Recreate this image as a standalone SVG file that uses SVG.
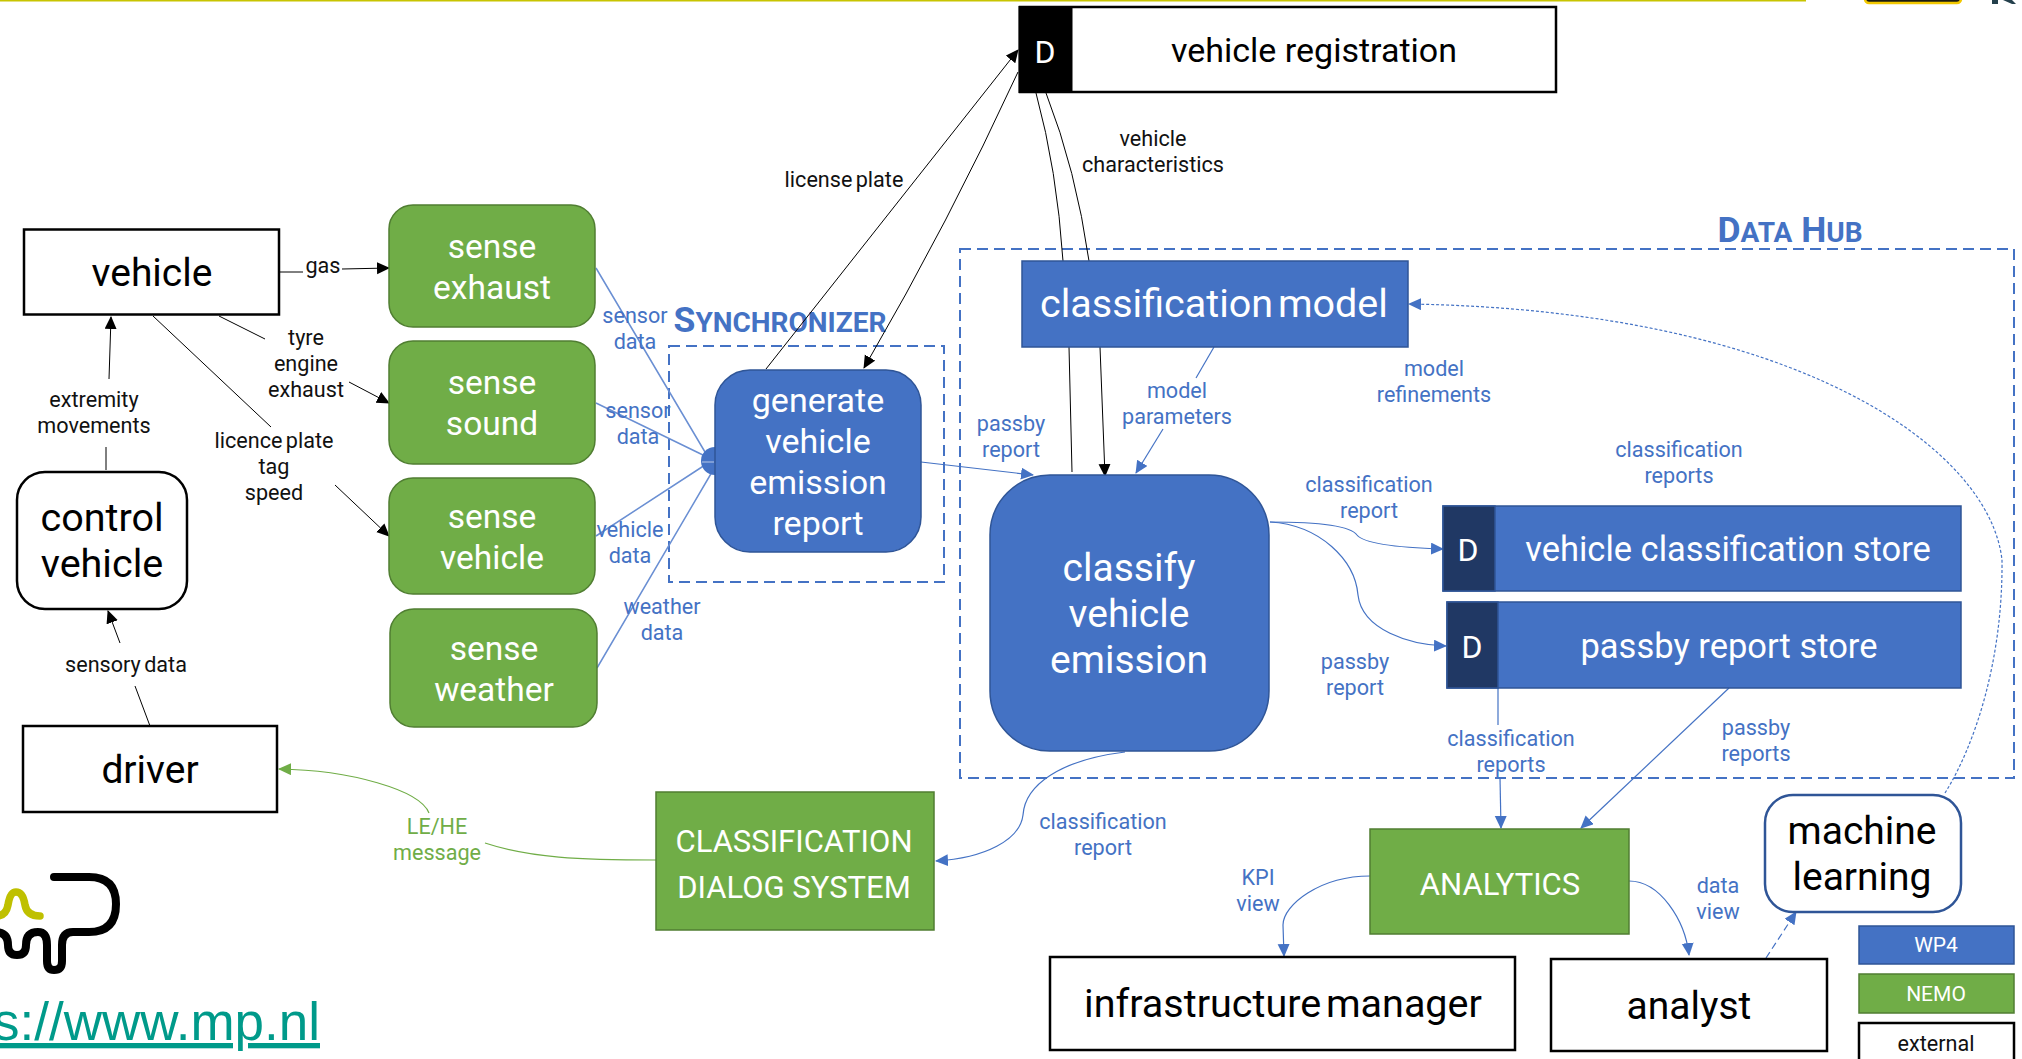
<svg xmlns="http://www.w3.org/2000/svg" width="2022" height="1059" viewBox="0 0 2022 1059">
<style>
text{font-family:Roboto,"Liberation Sans",sans-serif;text-anchor:middle}
.g{fill:#70ad47;stroke:#507e32;stroke-width:1.5}
.b{fill:#4472c4;stroke:#2f5597;stroke-width:1.5}
.d{fill:#203864;stroke:#2f5597;stroke-width:1.5}
.w{fill:#fff;stroke:#000;stroke-width:2.5}
.n{fill:#fff;font-size:33.5px}
.k{fill:#000;font-size:39px}
.l{fill:#111;font-size:21.6px;word-spacing:-2px}
.lb{fill:#4472c4;font-size:21.6px}
.lg{fill:#70ad47;font-size:21.6px}
.h{fill:#4472c4;font-weight:700;font-size:35.5px}
.h tspan{font-size:28px}
.dash{fill:none;stroke:#4472c4;stroke-width:2;stroke-dasharray:11 6}
.c{fill:none;stroke:#000;stroke-width:1}
.cb{fill:none;stroke:#4472c4;stroke-width:1.2}
.cs{fill:none;stroke:#6a8fd3;stroke-width:1.5}
.cg{fill:none;stroke:#70ad47;stroke-width:1.2}
</style>
<defs>
<marker id="ak" markerWidth="14" markerHeight="14" refX="12" refY="6" orient="auto" markerUnits="userSpaceOnUse"><path d="M0 0L13 6L0 12z" fill="#000"/></marker>
<marker id="ab" markerWidth="14" markerHeight="14" refX="12" refY="6" orient="auto" markerUnits="userSpaceOnUse"><path d="M0 0L13 6L0 12z" fill="#4472c4"/></marker>
<marker id="ag" markerWidth="14" markerHeight="14" refX="12" refY="6" orient="auto" markerUnits="userSpaceOnUse"><path d="M0 0L13 6L0 12z" fill="#70ad47"/></marker>
</defs>
<rect width="2022" height="1059" fill="#fff"/>
<g id="page-decor">
<rect x="0" y="0" width="1806" height="1.5" fill="#c8c400"/>
<rect x="1865" y="-8" width="96" height="11" rx="4" fill="#1c1c10" stroke="#f2c800" stroke-width="2.5"/>
<rect x="1992" y="0" width="6" height="4" fill="#24404c"/>
<path d="M2003 0H2012L2016 4H2012z" fill="#24404c"/>
</g>
<g id="logo" fill="none" stroke-linecap="round" stroke-linejoin="round">
<path d="M54 877H89Q116 877 116 904Q116 932 89 932H73Q62 932 62 945V961Q62 970 54 970Q47 970 47 961V945Q47 932 38 932Q26 932 26 945Q26 955 17 955Q8 955 8 945Q8 932 -5 932" stroke="#000" stroke-width="8"/>
<path d="M-4 916Q6 916 8 905Q10 892 16 892Q23 892 25 905Q27 916 40 916" stroke="#bfc000" stroke-width="7.5"/>
</g>
<text id="url" x="320" y="1040" style="text-anchor:end;font-family:'Liberation Sans',sans-serif;font-size:53px;fill:#009a8a;text-decoration:underline">s://www.mp.nl</text>
<g id="group-boxes">
<rect id="data-hub-box" class="dash" x="960" y="249" width="1054" height="529"/>
<rect id="synchronizer-box" class="dash" x="669" y="346" width="275" height="236"/>
<text class="h" x="780" y="332">S<tspan>YNCHRONIZER</tspan></text>
<text class="h" x="1790" y="242">D<tspan>ATA</tspan> H<tspan>UB</tspan></text>
</g>
<g id="connectors">
<path class="cs" d="M596 268L705 452M596 403L705 456M596 536L705 465M597 668L712 472"/>
<path class="c" d="M279 272H303"/><path class="c" d="M342 269L389 268" marker-end="url(#ak)"/>
<path class="c" d="M219 316L265 339"/><path class="c" d="M349 382L389 403" marker-end="url(#ak)"/>
<path class="c" d="M153 316L271 427"/><path class="c" d="M335 485L389 536" marker-end="url(#ak)"/>
<path class="c" d="M106 470L106 447"/><path class="c" d="M109 379L111 317" marker-end="url(#ak)"/>
<path class="c" d="M150 726L135 686"/><path class="c" d="M120 643L108 611" marker-end="url(#ak)"/>
<path class="c" d="M766 369L1018 50" marker-end="url(#ak)"/>
<path class="c" d="M1018 72Q950 220 864 368" marker-end="url(#ak)"/>
<path class="c" d="M1036 93Q1057 170 1063 261"/><path class="c" d="M1069 347L1072 472"/>
<path class="c" d="M1046 93Q1076 170 1089 261"/><path class="c" d="M1100 347L1105 476" marker-end="url(#ak)"/>
<path class="cb" d="M921 462L1033 475" marker-end="url(#ab)"/>
<path class="cb" d="M1214 347L1196 378"/><path class="cb" d="M1163 429L1136 473" marker-end="url(#ab)"/>
<path class="cb" stroke-dasharray="3 2" d="M1945 793C1975 745 2003 660 2002 560C1990 450 1800 310 1409 304" marker-end="url(#ab)"/>
<path class="cb" d="M1270 522C1310 522 1350 525 1357 535C1365 545 1410 548 1443 549" marker-end="url(#ab)"/>
<path class="cb" d="M1270 522C1320 525 1355 560 1358 595C1362 630 1410 645 1446 646" marker-end="url(#ab)"/>
<path class="cb" d="M1498 688V725"/><path class="cb" d="M1500 778L1501 828" marker-end="url(#ab)"/>
<path class="cb" d="M1729 688L1581 828" marker-end="url(#ab)"/>
<path class="cb" d="M1370 876C1320 876 1283 905 1283 925L1284 956" marker-end="url(#ab)"/>
<path class="cb" d="M1629 881C1660 881 1685 920 1689 955" marker-end="url(#ab)"/>
<path class="cb" stroke-dasharray="7 4" d="M1766 958L1796 912" marker-end="url(#ab)"/>
<path class="cb" d="M1125 752C1060 760 1025 785 1023 815C1020 840 985 858 936 861" marker-end="url(#ab)"/>
<path class="cg" d="M656 860C580 860 530 858 485 843"/><path class="cg" d="M429 813C420 790 350 770 279 769" marker-end="url(#ag)"/>
</g>
<g id="labels">
<text class="l" x="323" y="273">gas</text>
<text class="l" x="306" y="345">tyre<tspan x="306" dy="26">engine</tspan><tspan x="306" dy="26">exhaust</tspan></text>
<text class="l" x="274" y="448">licence plate<tspan x="274" dy="26">tag</tspan><tspan x="274" dy="26">speed</tspan></text>
<text class="l" x="94" y="407">extremity<tspan x="94" dy="26">movements</tspan></text>
<text class="l" x="126" y="672">sensory data</text>
<text class="l" x="844" y="187">license plate</text>
<text class="l" x="1153" y="146">vehicle<tspan x="1153" dy="26">characteristics</tspan></text>
<text class="lb" x="635" y="323">sensor<tspan x="635" dy="26">data</tspan></text>
<text class="lb" x="638" y="418">sensor<tspan x="638" dy="26">data</tspan></text>
<text class="lb" x="630" y="537">vehicle<tspan x="630" dy="26">data</tspan></text>
<text class="lb" x="662" y="614">weather<tspan x="662" dy="26">data</tspan></text>
<text class="lb" x="1011" y="431">passby<tspan x="1011" dy="26">report</tspan></text>
<text class="lb" x="1177" y="398">model<tspan x="1177" dy="26">parameters</tspan></text>
<text class="lb" x="1434" y="376">model<tspan x="1434" dy="26">refinements</tspan></text>
<text class="lb" x="1369" y="492">classification<tspan x="1369" dy="26">report</tspan></text>
<text class="lb" x="1679" y="457">classification<tspan x="1679" dy="26">reports</tspan></text>
<text class="lb" x="1355" y="669">passby<tspan x="1355" dy="26">report</tspan></text>
<text class="lb" x="1511" y="746">classification<tspan x="1511" dy="26">reports</tspan></text>
<text class="lb" x="1756" y="735">passby<tspan x="1756" dy="26">reports</tspan></text>
<text class="lb" x="1103" y="829">classification<tspan x="1103" dy="26">report</tspan></text>
<text class="lb" x="1258" y="885">KPI<tspan x="1258" dy="26">view</tspan></text>
<text class="lb" x="1718" y="893">data<tspan x="1718" dy="26">view</tspan></text>
<text class="lg" x="437" y="834">LE/HE<tspan x="437" dy="26">message</tspan></text>
</g>
<g id="vehicle"><rect class="w" x="24" y="229.5" width="255" height="85"/><text class="k" x="152" y="286">vehicle</text></g>
<g id="control-vehicle"><rect class="w" x="17" y="472" width="170" height="137" rx="28"/><text class="k" x="102" y="531" style="font-size:39.5px">control<tspan x="102" dy="46">vehicle</tspan></text></g>
<g id="driver"><rect class="w" x="23" y="726" width="254" height="86"/><text class="k" x="150" y="783">driver</text></g>
<g id="sense-exhaust"><rect class="g" x="389" y="205" width="206" height="122" rx="24"/><text class="n" x="492" y="258">sense<tspan x="492" dy="41">exhaust</tspan></text></g>
<g id="sense-sound"><rect class="g" x="389" y="341" width="206" height="123" rx="24"/><text class="n" x="492" y="394">sense<tspan x="492" dy="41">sound</tspan></text></g>
<g id="sense-vehicle"><rect class="g" x="389" y="478" width="206" height="116" rx="24"/><text class="n" x="492" y="528">sense<tspan x="492" dy="41">vehicle</tspan></text></g>
<g id="sense-weather"><rect class="g" x="390" y="609" width="207" height="118" rx="24"/><text class="n" x="494" y="660">sense<tspan x="494" dy="41">weather</tspan></text></g>
<g id="generate-vehicle-emission-report"><circle cx="715" cy="461" r="14" fill="#4472c4"/><path d="M702 462H714" stroke="#b8c9e8" stroke-width="1"/><rect class="b" x="715" y="370" width="206" height="182" rx="35"/><text class="n" x="818" y="412" style="font-size:34px">generate<tspan x="818" dy="41">vehicle</tspan><tspan x="818" dy="41">emission</tspan><tspan x="818" dy="41">report</tspan></text></g>
<g id="vehicle-registration"><rect class="w" x="1020" y="7" width="536" height="85"/><rect x="1018.5" y="6" width="54" height="87" fill="#000"/><text x="1045" y="63" style="fill:#fff;font-size:32px">D</text><text class="k" x="1314" y="62" style="font-size:34px">vehicle registration</text></g>
<g id="classification-model"><rect class="b" x="1022" y="261" width="386" height="86"/><text x="1214" y="317" style="fill:#fff;font-size:39.5px;word-spacing:-5px">classification model</text></g>
<g id="classify-vehicle-emission"><rect class="b" x="990" y="475" width="279" height="276" rx="60"/><text x="1129" y="581" style="fill:#fff;font-size:39px">classify<tspan x="1129" dy="46">vehicle</tspan><tspan x="1129" dy="46">emission</tspan></text></g>
<g id="vehicle-classification-store"><rect class="b" x="1443" y="506" width="518" height="85"/><rect class="d" x="1443" y="506" width="52" height="85"/><text x="1468" y="561" style="fill:#fff;font-size:32px">D</text><text class="n" x="1728" y="561" style="font-size:34.5px">vehicle classification store</text></g>
<g id="passby-report-store"><rect class="b" x="1447" y="602" width="514" height="86"/><rect class="d" x="1447" y="602" width="51" height="86"/><text x="1472" y="658" style="fill:#fff;font-size:32px">D</text><text class="n" x="1729" y="658" style="font-size:34.5px">passby report store</text></g>
<g id="classification-dialog-system"><rect class="g" x="656" y="792" width="278" height="138"/><text x="794" y="852" style="fill:#fff;font-size:31px">CLASSIFICATION<tspan x="794" dy="46">DIALOG SYSTEM</tspan></text></g>
<g id="analytics"><rect class="g" x="1370" y="829" width="259" height="105"/><text x="1500" y="895" style="fill:#fff;font-size:31px">ANALYTICS</text></g>
<g id="machine-learning"><rect x="1765" y="795" width="196" height="117" rx="28" fill="#fff" stroke="#2f5597" stroke-width="2.5"/><text class="k" x="1862" y="844">machine<tspan x="1862" dy="46">learning</tspan></text></g>
<g id="infrastructure-manager"><rect class="w" x="1050" y="957" width="465" height="93"/><text class="k" x="1283" y="1017" style="font-size:39.5px;word-spacing:-5px">infrastructure manager</text></g>
<g id="analyst"><rect class="w" x="1551" y="959" width="276" height="92"/><text class="k" x="1689" y="1019">analyst</text></g>
<g id="legend-wp4"><rect class="b" x="1859" y="926" width="155" height="38"/><text x="1936" y="952" style="fill:#fff;font-size:21px">WP4</text></g>
<g id="legend-nemo"><rect class="g" x="1859" y="974" width="155" height="39"/><text x="1936" y="1001" style="fill:#fff;font-size:21px">NEMO</text></g>
<g id="legend-external"><rect class="w" x="1859" y="1023" width="155" height="50"/><text class="l" x="1936" y="1051">external</text></g>
</svg>
